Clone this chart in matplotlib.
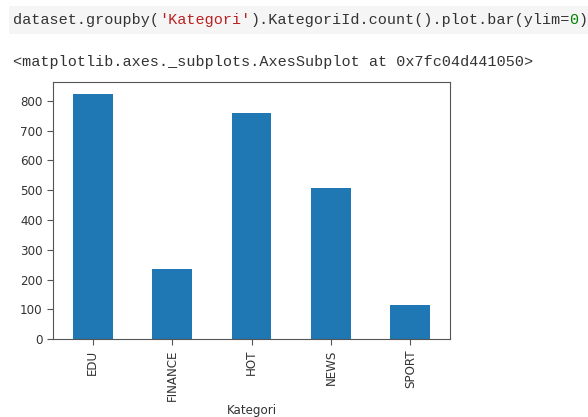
import matplotlib
matplotlib.use("Agg")
import matplotlib.pyplot as plt
from matplotlib.patches import Rectangle

categories = ["EDU", "FINANCE", "HOT", "NEWS", "SPORT"]
counts = [822, 235, 758, 509, 115]
yticks = [0, 100, 200, 300, 400, 500, 600, 700, 800]

W, H = 588, 417
fig = plt.figure(figsize=(W / 100, H / 100), dpi=100)
fig.patch.set_facecolor("white")

# code cell background
fig.patches.append(Rectangle((9 / W, 1 - 34 / H), (W - 9) / W, 28 / H,
                             transform=fig.transFigure, facecolor="#f5f5f5",
                             edgecolor="none", zorder=0))

mono = "Liberation Mono"
fs_code = 10.9
renderer = fig.canvas.get_renderer()

def code_line(segments, x0, y):
    x = x0
    for txt, col in segments:
        fig.text(x / W, 1 - y / H, txt, color=col, fontsize=fs_code,
                 family=mono, va="center", ha="left")
        probe = fig.text(0, 0, txt + "|", fontsize=fs_code, family=mono)
        bar = fig.text(0, 0, "|", fontsize=fs_code, family=mono)
        w = probe.get_window_extent(renderer).width - bar.get_window_extent(renderer).width
        probe.remove()
        bar.remove()
        x += w

code_line([("dataset.groupby(", "#333333"), ("'Kategori'", "#ba2121"),
           (").KategoriId.count().plot.bar(ylim=", "#333333"), ("0", "#008000"),
           (")", "#333333")], 13, 20)
code_line([("<matplotlib.axes._subplots.AxesSubplot at 0x7fc04d441050>", "#333333")], 13, 62)

fs = 8.6
ax = fig.add_axes([53 / W, 1 - 339.3 / H, (450 - 53) / W, (339.3 - 82) / H])
x = range(len(categories))
ax.bar(x, counts, width=0.5, color="#1f77b4")
ax.set_xticks(list(x))
ax.set_xticklabels(categories, rotation=90, fontsize=fs)
ax.set_yticks(yticks)
ax.set_yticklabels([str(v) for v in yticks], fontsize=fs)
ax.set_xlim(-0.5, len(categories) - 0.5)
ax.set_ylim(0, max(counts) * 1.05)
ax.set_xlabel("Kategori", fontsize=fs, color="#333333")
ax.xaxis.set_label_coords(0.5, (339.3 - 404) / (339.3 - 82))
for s in ax.spines.values():
    s.set_color("#555555")
ax.tick_params(colors="#555555", labelcolor="#333333", length=4)

fig.savefig("out.png", dpi=100)
